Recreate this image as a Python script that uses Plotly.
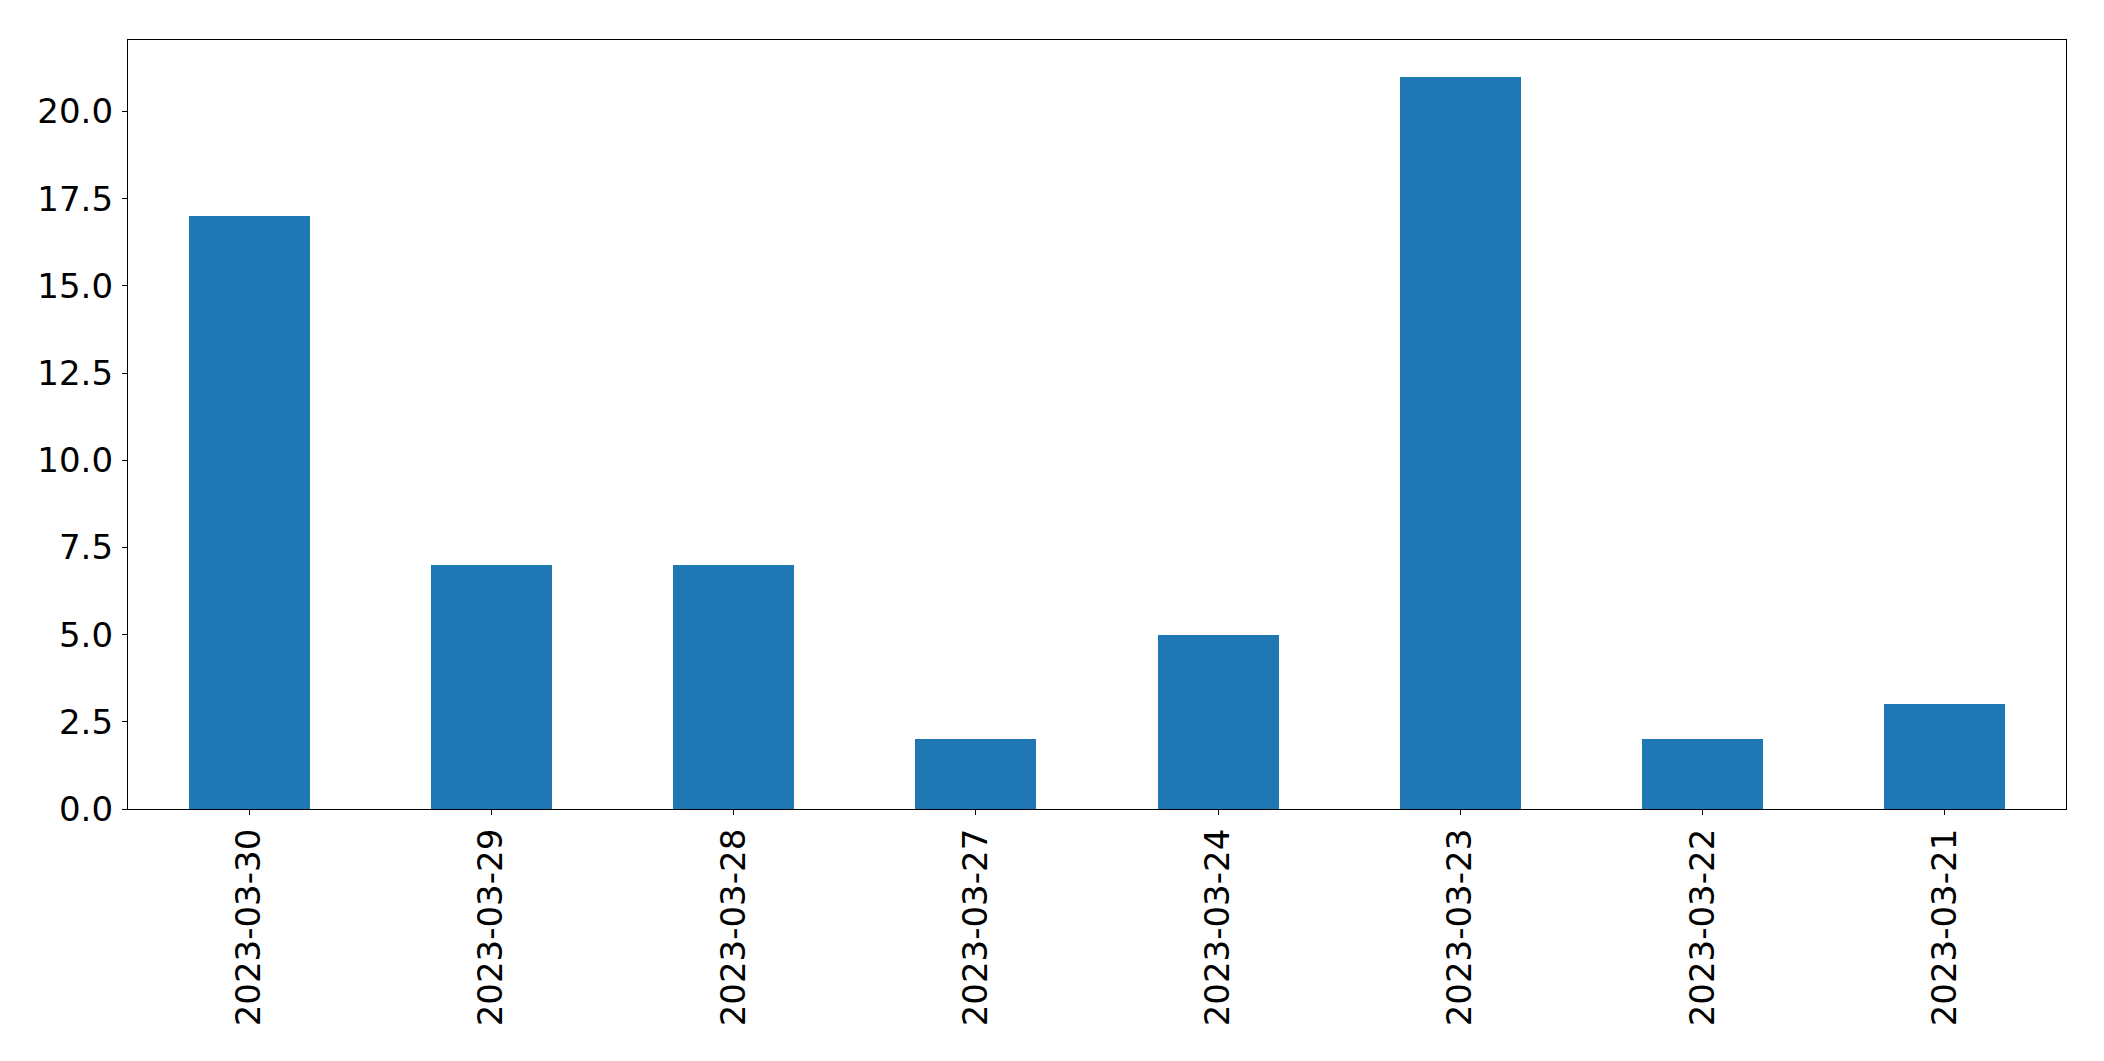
import plotly.graph_objects as go

dates = ["2023-03-30", "2023-03-29", "2023-03-28", "2023-03-27",
         "2023-03-24", "2023-03-23", "2023-03-22", "2023-03-21"]
counts = [17, 7, 7, 2, 5, 21, 2, 3]
y_ticks = [0.0, 2.5, 5.0, 7.5, 10.0, 12.5, 15.0, 17.5, 20.0]

# page has 8px default body margin; compensate so the plot area lands where the reference has it
OFF = 8
W, H = 2104 - 2 * OFF, 1061 - 2 * OFF
L = 127.5 - OFF
T = 39.5 - OFF
R = (2104 - OFF) - 2065.7
B = (1061 - OFF) - 809

fig = go.Figure(go.Bar(
    x=list(range(len(dates))), y=counts, width=0.5,
    marker=dict(color="#1f77b4", line=dict(width=0)),
))

font = dict(family="DejaVu Sans", size=34, color="black")
fig.update_layout(
    width=W, height=H, autosize=False,
    margin=dict(l=L, r=R, t=T, b=B, pad=0, autoexpand=False),
    plot_bgcolor="white", paper_bgcolor="white",
    showlegend=False, bargap=0,
    font=font,
)
fig.update_xaxes(
    range=[-0.5, len(dates) - 0.5],
    tickmode="array", tickvals=list(range(len(dates))), ticktext=dates,
    tickangle=-90, ticks="outside", ticklen=5, tickwidth=1.3, tickcolor="black",
    showline=True, linecolor="black", linewidth=1.3, mirror=True,
    showgrid=False, zeroline=False, tickfont=font, ticklabelstandoff=0,
    automargin=False,
)
fig.update_yaxes(
    range=[0, 22.05],
    tickmode="array", tickvals=y_ticks, ticktext=[f"{v:.1f}" for v in y_ticks],
    ticks="outside", ticklen=5, tickwidth=1.3, tickcolor="black",
    showline=True, linecolor="black", linewidth=1.3, mirror=True,
    showgrid=False, zeroline=False, tickfont=font, ticklabelstandoff=2,
    automargin=False,
)

fig.write_html("out.html")
